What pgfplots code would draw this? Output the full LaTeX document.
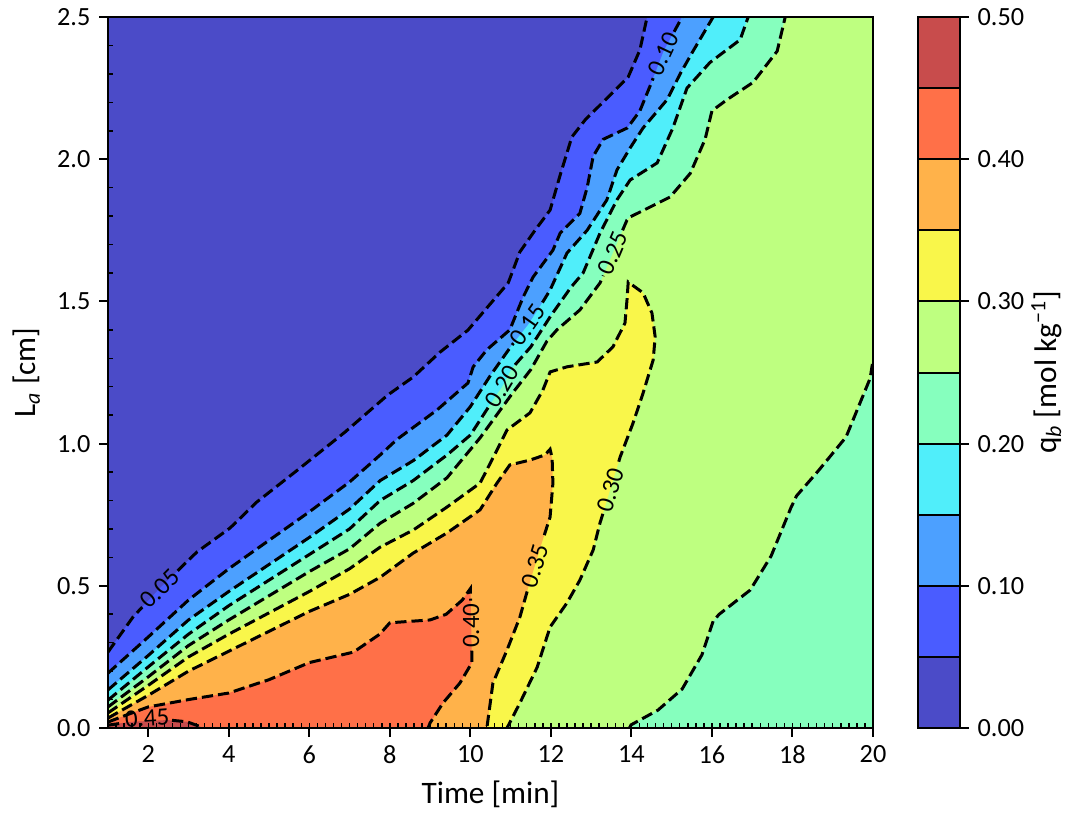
\documentclass[border=0pt]{standalone}
\usepackage{fontspec}
\setmainfont{Carlito}
\usepackage{pgfplots}
\pgfplotsset{compat=1.18}

\definecolor{c0}{RGB}{75,75,200}
\definecolor{c1}{RGB}{74,92,255}
\definecolor{c2}{RGB}{76,160,255}
\definecolor{c3}{RGB}{80,238,250}
\definecolor{c4}{RGB}{134,255,190}
\definecolor{c5}{RGB}{190,255,128}
\definecolor{c6}{RGB}{249,246,74}
\definecolor{c7}{RGB}{255,178,74}
\definecolor{c8}{RGB}{255,112,72}
\definecolor{c9}{RGB}{200,76,76}

\tikzset{cl/.style={black, line width=1.2pt, dash pattern=on 4.5pt off 2pt},
  clab/.style={font=\fontsize{10}{12}\selectfont, inner sep=0pt}}

\begin{document}
\begin{tikzpicture}
\path[use as bounding box] (-43.2pt,-33.6pt) rectangle (384.8pt,291.2pt);

% main contour axis
\begin{axis}[name=main, at={(0,0)}, anchor=south west, scale only axis,
  width=306pt, height=284.4pt,
  xmin=1, xmax=20, ymin=0, ymax=2.5,
  xtick={2,4,6,8,10,12,14,16,18,20}, xticklabels={2,4,6,8,10,12,14,16,18,20},
  ytick={0,0.5,1,1.5,2,2.5}, yticklabels={0.0,0.5,1.0,1.5,2.0,2.5},
  xtick pos=bottom, ytick pos=left, tick align=outside, major tick length=3.5pt,
  tick style={black, line width=0.8pt},
  axis line style={line width=0.8pt},
  axis background/.style={fill=c0},
  axis on top,
  xlabel={Time [min]}, ylabel={L\textsubscript{\textit{a}} [cm]},
  label style={font=\fontsize{12.5}{14}\selectfont},
  tick label style={font=\fontsize{10.5}{12}\selectfont}]

% filled levels, lowest first
\addplot[fill=c1, draw=none] coordinates {(1.00,0.267)(1.62,0.390)(2.29,0.492)(3.21,0.619)(4.03,0.703)(4.70,0.795)(5.77,0.914)(6.89,1.041)(7.95,1.171)(8.58,1.234)(9.25,1.322)(9.94,1.399)(10.24,1.449)(10.94,1.565)(11.23,1.674)(11.61,1.751)(11.98,1.821)(12.23,1.944)(12.52,2.078)(12.85,2.138)(13.92,2.289)(14.21,2.384)(14.39,2.5)(20,2.5)(20,0)(1,0)};
\addplot[fill=c2, draw=none] coordinates {(1,0.193)(2,0.32)(3,0.45)(4,0.56)(5,0.66)(6,0.76)(7,0.865)(7.76,0.96)(8.18,1.015)(9.17,1.118)(9.94,1.213)(10.07,1.27)(10.41,1.33)(10.98,1.40)(11.31,1.515)(11.56,1.586)(12.05,1.68)(12.23,1.74)(12.72,1.81)(12.9,1.90)(13.05,2.01)(13.3,2.07)(13.9,2.11)(14.21,2.17)(14.5,2.27)(14.8,2.38)(15.26,2.5)(20,2.5)(20,0)(1,0)};
\addplot[fill=c3, draw=none] coordinates {(1,0.134)(2,0.255)(3,0.38)(4,0.48)(5,0.575)(6,0.67)(7,0.77)(7.76,0.87)(8.58,0.94)(9.42,1.03)(10.0,1.13)(10.5,1.24)(11.0,1.34)(11.43,1.417)(11.72,1.48)(11.98,1.54)(12.4,1.67)(12.9,1.75)(13.39,1.857)(13.64,1.962)(13.97,2.04)(14.29,2.11)(14.89,2.21)(15.21,2.30)(15.53,2.38)(16.03,2.5)(20,2.5)(20,0)(1,0)};
\addplot[fill=c4, draw=none] coordinates {(1,0.098)(2,0.215)(3,0.33)(4,0.43)(5,0.52)(6,0.61)(7,0.70)(7.76,0.80)(8.58,0.87)(9.42,0.96)(10.0,1.03)(10.5,1.14)(10.79,1.2)(11.04,1.266)(11.5,1.34)(12.0,1.45)(12.5,1.55)(12.8,1.60)(13.22,1.74)(13.64,1.857)(13.97,1.927)(14.64,1.987)(15.03,2.11)(15.38,2.25)(15.95,2.34)(16.7,2.42)(16.9,2.5)(20,2.5)(20,0)(1,0)};
\addplot[fill=c5, draw=none] coordinates {(1,0.074)(2,0.18)(3,0.29)(4,0.38)(5,0.465)(6,0.55)(7,0.63)(7.76,0.72)(8.58,0.79)(9.42,0.88)(10.24,1.02)(11.06,1.18)(11.5,1.26)(11.9,1.36)(12.15,1.40)(12.72,1.47)(13.22,1.565)(13.54,1.67)(13.89,1.786)(13.97,1.797)(14.96,1.867)(15.46,1.95)(15.83,2.07)(16.0,2.17)(16.38,2.21)(17.02,2.27)(17.62,2.38)(17.82,2.5)(20,2.5)(20,1.294)(19.93,1.23)(19.33,1.023)(18.64,0.904)(18.1,0.816)(17.96,0.774)(17.47,0.605)(16.95,0.485)(16.18,0.40)(16.03,0.376)(15.75,0.257)(15.26,0.137)(14.66,0.063)(13.99,0.011)(13.95,0)(1,0)};
\addplot[fill=c6, draw=none] coordinates {(1,0.053)(2,0.15)(3,0.25)(4,0.33)(5,0.405)(6,0.48)(7,0.56)(7.76,0.636)(8.58,0.696)(9.42,0.777)(10.24,0.861)(10.66,0.977)(10.91,1.048)(11.48,1.108)(11.8,1.188)(11.98,1.252)(12.4,1.27)(13.15,1.287)(13.54,1.34)(13.84,1.424)(13.89,1.505)(13.92,1.568)(14.29,1.53)(14.51,1.459)(14.59,1.375)(14.54,1.294)(14.29,1.178)(14.04,1.072)(13.72,0.953)(13.47,0.837)(13.22,0.721)(13.05,0.626)(12.72,0.52)(12.4,0.44)(11.98,0.355)(11.66,0.214)(11.23,0.088)(10.91,0.0)(1,0)};
\addplot[fill=c7, draw=none] coordinates {(1,0.035)(2,0.115)(3,0.2)(4,0.27)(5,0.34)(6,0.41)(7,0.47)(7.76,0.53)(8.58,0.615)(9.42,0.686)(10.24,0.767)(10.66,0.861)(10.98,0.925)(11.48,0.942)(11.85,0.96)(11.98,0.98)(12.03,0.95)(12.05,0.861)(11.98,0.742)(11.75,0.64)(11.45,0.50)(11.23,0.39)(10.91,0.274)(10.56,0.158)(10.41,0.0)(1,0)};
\addplot[fill=c8, draw=none] coordinates {(1,0.021)(1.5,0.048)(2,0.074)(3,0.10)(4,0.123)(5,0.17)(6,0.23)(7.1,0.267)(7.75,0.33)(8.0,0.37)(9.0,0.38)(9.4,0.40)(9.8,0.45)(10.0,0.49)(10.01,0.43)(10.03,0.29)(10.04,0.23)(9.74,0.158)(9.32,0.088)(9.0,0.018)(8.95,0)(1,0)};
\addplot[fill=c9, draw=none] coordinates {(1,0.01)(1.47,0.02)(1.62,0.022)(2.47,0.028)(2.96,0.022)(3.29,0.005)(3.35,0)(1,0)};

% dashed contour lines, broken under the labels
\addplot[cl] coordinates {(1.00,0.267)(1.62,0.390)(1.85,0.425)};
\addplot[cl] coordinates {(2.73,0.553)(3.21,0.619)(4.03,0.703)(4.70,0.795)(5.77,0.914)(6.89,1.041)(7.95,1.171)(8.58,1.234)(9.25,1.322)(9.94,1.399)(10.24,1.449)(10.94,1.565)(11.23,1.674)(11.61,1.751)(11.98,1.821)(12.23,1.944)(12.52,2.078)(12.85,2.138)(13.92,2.289)(14.21,2.384)(14.39,2.5)};
\addplot[cl] coordinates {(1,0.193)(2,0.32)(3,0.45)(4,0.56)(5,0.66)(6,0.76)(7,0.865)(7.76,0.96)(8.18,1.015)(9.17,1.118)(9.94,1.213)(10.07,1.27)(10.41,1.33)(10.98,1.40)(11.31,1.515)(11.56,1.586)(12.05,1.68)(12.23,1.74)(12.72,1.81)(12.9,1.90)(13.05,2.01)(13.3,2.07)(13.9,2.11)(14.21,2.17)(14.5,2.27)(14.54,2.285)};
\addplot[cl] coordinates {(15.06,2.448)(15.26,2.5)};
\addplot[cl] coordinates {(1,0.134)(2,0.255)(3,0.38)(4,0.48)(5,0.575)(6,0.67)(7,0.77)(7.76,0.87)(8.58,0.94)(9.42,1.03)(10.0,1.13)(10.5,1.24)(11.0,1.34)(11.07,1.353)};
\addplot[cl] coordinates {(11.79,1.496)(11.98,1.54)(12.4,1.67)(12.9,1.75)(13.39,1.857)(13.64,1.962)(13.97,2.04)(14.29,2.11)(14.89,2.21)(15.21,2.30)(15.53,2.38)(16.03,2.5)};
\addplot[cl] coordinates {(1,0.098)(2,0.215)(3,0.33)(4,0.43)(5,0.52)(6,0.61)(7,0.70)(7.76,0.80)(8.58,0.87)(9.42,0.96)(10.0,1.03)(10.47,1.133)};
\addplot[cl] coordinates {(11.11,1.277)(11.5,1.34)(12.0,1.45)(12.5,1.55)(12.8,1.60)(13.22,1.74)(13.64,1.857)(13.97,1.927)(14.64,1.987)(15.03,2.11)(15.38,2.25)(15.95,2.34)(16.7,2.42)(16.9,2.5)};
\addplot[cl] coordinates {(1,0.074)(2,0.18)(3,0.29)(4,0.38)(5,0.465)(6,0.55)(7,0.63)(7.76,0.72)(8.58,0.79)(9.42,0.88)(10.24,1.02)(11.06,1.18)(11.5,1.26)(11.9,1.36)(12.15,1.40)(12.72,1.47)(13.22,1.565)(13.30,1.591)};
\addplot[cl] coordinates {(13.78,1.75)(13.89,1.786)(13.97,1.797)(14.96,1.867)(15.46,1.95)(15.83,2.07)(16.0,2.17)(16.38,2.21)(17.02,2.27)(17.62,2.38)(17.82,2.5)};
\addplot[cl] coordinates {(13.95,0)(13.99,0.011)(14.66,0.063)(15.26,0.137)(15.75,0.257)(16.03,0.376)(16.18,0.40)(16.95,0.485)(17.47,0.605)(17.96,0.774)(18.1,0.816)(18.64,0.904)(19.33,1.023)(19.93,1.23)(20,1.294)};
\addplot[cl] coordinates {(1,0.053)(2,0.15)(3,0.25)(4,0.33)(5,0.405)(6,0.48)(7,0.56)(7.76,0.636)(8.58,0.696)(9.42,0.777)(10.24,0.861)(10.66,0.977)(10.91,1.048)(11.48,1.108)(11.8,1.188)(11.98,1.252)(12.4,1.27)(13.15,1.287)(13.54,1.34)(13.84,1.424)(13.89,1.505)(13.92,1.568)(14.29,1.53)(14.51,1.459)(14.59,1.375)(14.54,1.294)(14.29,1.178)(14.04,1.072)(13.72,0.953)(13.65,0.92)};
\addplot[cl] coordinates {(13.29,0.753)(13.22,0.721)(13.05,0.626)(12.72,0.52)(12.4,0.44)(11.98,0.355)(11.66,0.214)(11.23,0.088)(10.91,0.0)};
\addplot[cl] coordinates {(1,0.035)(2,0.115)(3,0.2)(4,0.27)(5,0.34)(6,0.41)(7,0.47)(7.76,0.53)(8.58,0.615)(9.42,0.686)(10.24,0.767)(10.66,0.861)(10.98,0.925)(11.48,0.942)(11.85,0.96)(11.98,0.98)(12.03,0.95)(12.05,0.861)(11.98,0.742)(11.8,0.662)};
\addplot[cl] coordinates {(11.41,0.48)(11.23,0.39)(10.91,0.274)(10.56,0.158)(10.41,0.0)};
\addplot[cl] coordinates {(1,0.021)(1.5,0.048)(2,0.074)(3,0.10)(4,0.123)(5,0.17)(6,0.23)(7.1,0.267)(7.75,0.33)(8.0,0.37)(9.0,0.38)(9.4,0.40)(9.8,0.45)(10.0,0.49)(10.006,0.448)};
\addplot[cl] coordinates {(10.034,0.272)(10.04,0.23)(9.74,0.158)(9.32,0.088)(9.0,0.018)(8.95,0)};
\addplot[cl] coordinates {(1,0.01)(1.35,0.017)};
\addplot[cl] coordinates {(2.59,0.027)(2.96,0.022)(3.29,0.005)(3.35,0)};

% inline labels
\node[clab, rotate=45] at (axis cs:2.29,0.49) {0.05};
\node[clab, rotate=65] at (axis cs:14.8,2.37) {0.10};
\node[clab, rotate=55] at (axis cs:11.43,1.417) {0.15};
\node[clab, rotate=59] at (axis cs:10.79,1.2) {0.20};
\node[clab, rotate=67] at (axis cs:13.54,1.67) {0.25};
\node[clab, rotate=73] at (axis cs:13.47,0.837) {0.30};
\node[clab, rotate=73] at (axis cs:11.6,0.57) {0.35};
\node[clab, rotate=90] at (axis cs:10.02,0.36) {0.40};
\node[clab, rotate=4] at (axis cs:1.97,0.034) {0.45};
\end{axis}

% minor ticks pointing inward (major ticks placed out of range)
\begin{axis}[at={(0,0)}, anchor=south west, scale only axis,
  width=306pt, height=284.4pt,
  xmin=1, xmax=20, ymin=0, ymax=2.5,
  axis line style={draw=none},
  xtick={-5}, ytick={-5}, xticklabels={}, yticklabels={},
  minor xtick={1.2,1.4,...,19.9},
  minor ytick={0.1,0.2,0.3,0.4,0.6,0.7,0.8,0.9,1.1,1.2,1.3,1.4,1.6,1.7,1.8,1.9,2.1,2.2,2.3,2.4},
  xtick pos=bottom, ytick pos=left, tick align=inside,
  minor tick length=2pt, minor tick style={black, line width=0.6pt}]
\addplot[draw=none] coordinates {(1,0)};
\end{axis}

% colour bar
\begin{axis}[at={(324pt,0)}, anchor=south west, scale only axis,
  width=16.8pt, height=284.4pt,
  xmin=0, xmax=1, ymin=0, ymax=0.5,
  xtick=\empty,
  ytick={0,0.1,0.2,0.3,0.4,0.5}, yticklabels={0.00,0.10,0.20,0.30,0.40,0.50},
  ytick pos=right, yticklabel pos=right, tick align=outside, major tick length=3.5pt,
  tick style={black, line width=0.8pt},
  axis line style={line width=0.8pt},
  axis on top,
  ylabel={q\textsubscript{\textit{b}} [mol kg\textsuperscript{−1}]}, ylabel shift=-4pt,
  label style={font=\fontsize{12.5}{14}\selectfont},
  tick label style={font=\fontsize{10.5}{12}\selectfont}]
\addplot[fill=c0, draw=none] coordinates {(0,0)(1,0)(1,0.05)(0,0.05)};
\addplot[fill=c1, draw=none] coordinates {(0,0.05)(1,0.05)(1,0.10)(0,0.10)};
\addplot[fill=c2, draw=none] coordinates {(0,0.10)(1,0.10)(1,0.15)(0,0.15)};
\addplot[fill=c3, draw=none] coordinates {(0,0.15)(1,0.15)(1,0.20)(0,0.20)};
\addplot[fill=c4, draw=none] coordinates {(0,0.20)(1,0.20)(1,0.25)(0,0.25)};
\addplot[fill=c5, draw=none] coordinates {(0,0.25)(1,0.25)(1,0.30)(0,0.30)};
\addplot[fill=c6, draw=none] coordinates {(0,0.30)(1,0.30)(1,0.35)(0,0.35)};
\addplot[fill=c7, draw=none] coordinates {(0,0.35)(1,0.35)(1,0.40)(0,0.40)};
\addplot[fill=c8, draw=none] coordinates {(0,0.40)(1,0.40)(1,0.45)(0,0.45)};
\addplot[fill=c9, draw=none] coordinates {(0,0.45)(1,0.45)(1,0.50)(0,0.50)};
\addplot[black, line width=0.8pt] coordinates {(0,0.05)(1,0.05)};
\addplot[black, line width=0.8pt] coordinates {(0,0.10)(1,0.10)};
\addplot[black, line width=0.8pt] coordinates {(0,0.15)(1,0.15)};
\addplot[black, line width=0.8pt] coordinates {(0,0.20)(1,0.20)};
\addplot[black, line width=0.8pt] coordinates {(0,0.25)(1,0.25)};
\addplot[black, line width=0.8pt] coordinates {(0,0.30)(1,0.30)};
\addplot[black, line width=0.8pt] coordinates {(0,0.35)(1,0.35)};
\addplot[black, line width=0.8pt] coordinates {(0,0.40)(1,0.40)};
\addplot[black, line width=0.8pt] coordinates {(0,0.45)(1,0.45)};
\end{axis}
\end{tikzpicture}
\end{document}
